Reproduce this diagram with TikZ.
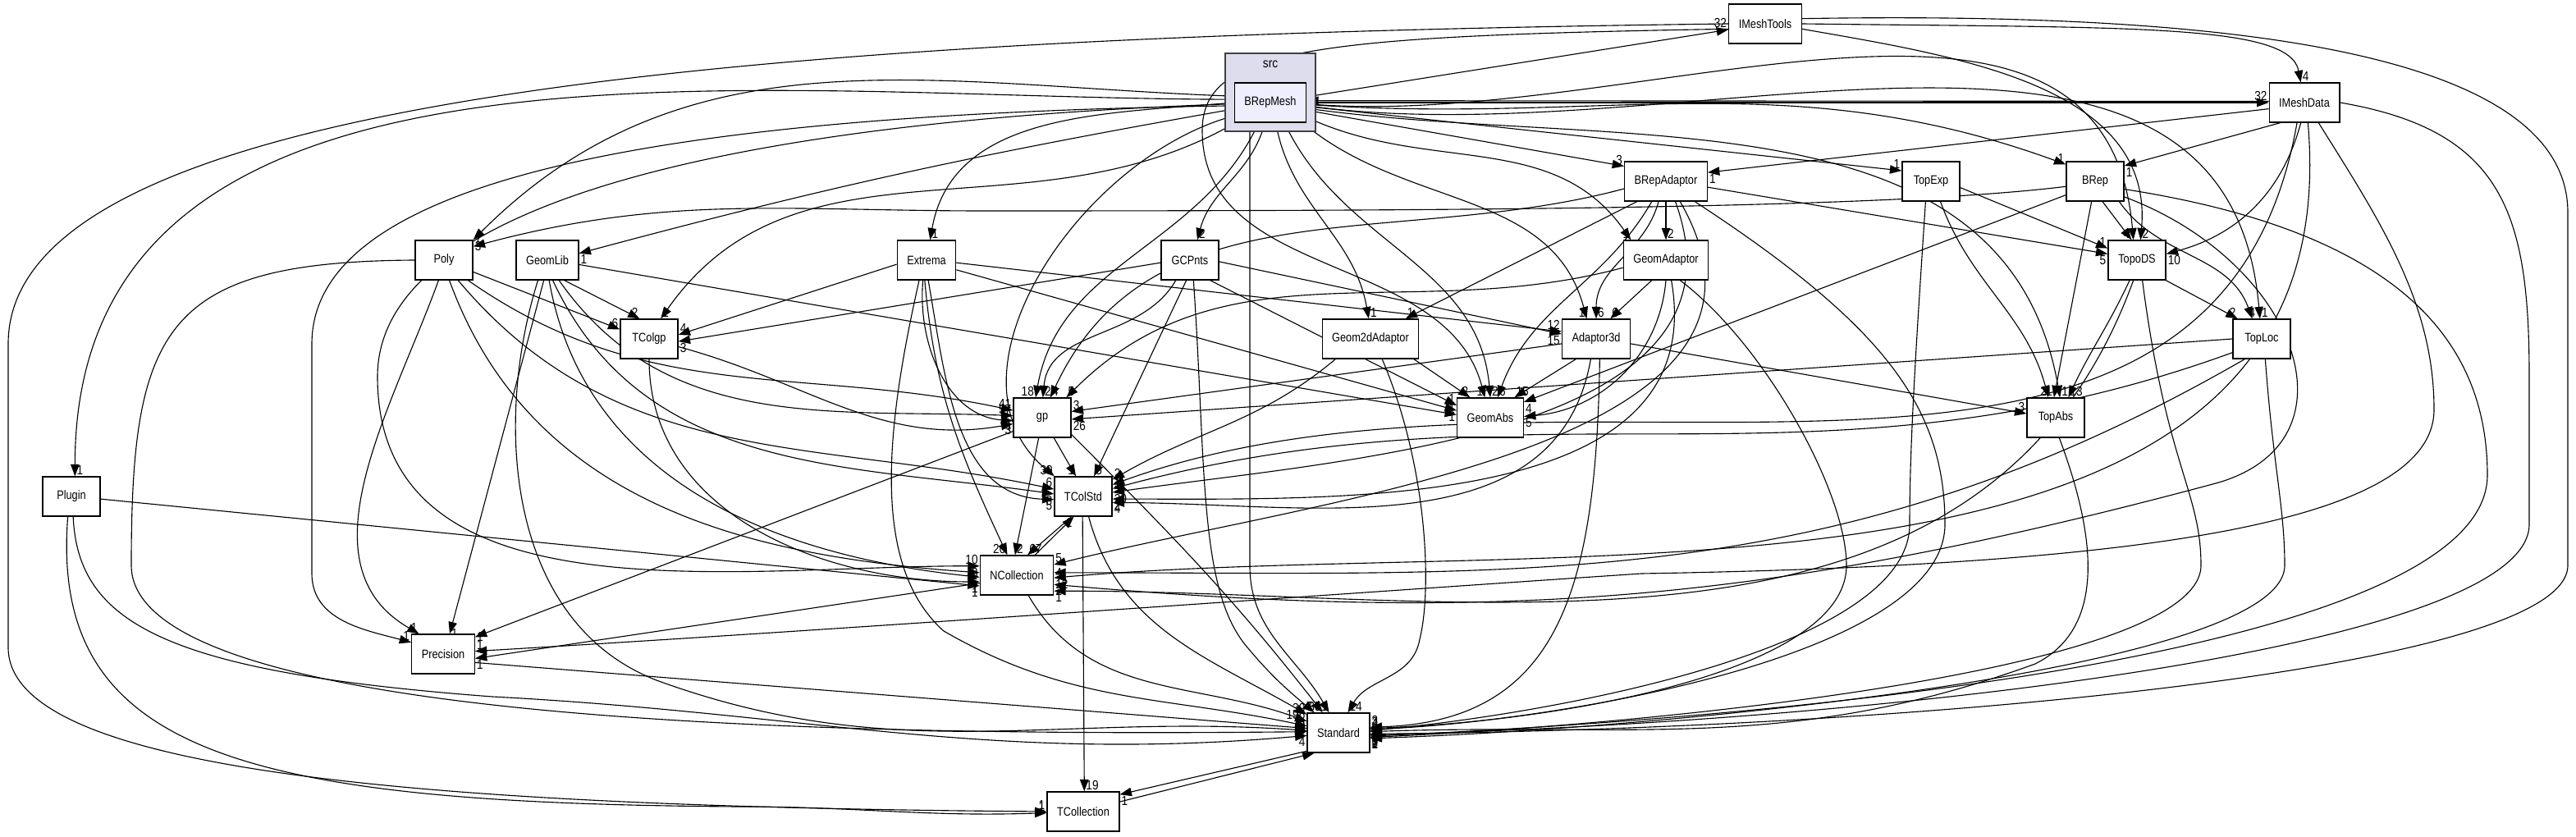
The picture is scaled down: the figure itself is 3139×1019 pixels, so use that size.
\documentclass[tikz,border=0pt]{standalone}
\usepackage{fontspec}
\newfontfamily\dirfont{Liberation Sans}[FakeStretch=0.85]
\usetikzlibrary{arrows.meta}
\definecolor{srcfill}{HTML}{DDDDEE}
\definecolor{meshfill}{HTML}{EEEEFF}
\definecolor{srcline}{HTML}{404040}
\pgfdeclarelayer{edges}
\pgfsetlayers{edges,main}

\begin{document}
\begin{tikzpicture}[x=0.25pt, y=0.25pt, >={Triangle[length=3.6pt, width=2.6pt]},
  dir/.style={draw, line width=0.33pt, fill=white, minimum height=12pt, minimum width=17.5pt, inner xsep=3pt, font=\dirfont\fontsize{3.75}{4.5}\selectfont},
  lbl/.style={font=\dirfont\fontsize{4}{4.8}\selectfont, inner sep=0.4pt},
  hl/.style={lbl, pos=1, anchor=#1},
  dep/.style={->, line width=0.28pt}]

\useasboundingbox (0,0) rectangle (3139,1019);

% the src cluster
\draw[srcline, line width=0.38pt, fill=srcfill] (1493,859) rectangle (1603,954);
\node[lbl] (src) at (1548,941) {src};
\node[dir, fill=meshfill] (BRepMesh) at (1548,894) {BRepMesh};

\node[dir] (IMeshTools) at (2151,990) {IMeshTools};
\node[dir] (IMeshData) at (2808,894) {IMeshData};
\node[dir] (BRepAdaptor) at (2030,798) {BRepAdaptor};
\node[dir] (TopExp) at (2353,798) {TopExp};
\node[dir] (BRep) at (2553,798) {BRep};
\node[dir] (Poly) at (541,702) {Poly};
\node[dir] (GeomLib) at (667,702) {GeomLib};
\node[dir] (Extrema) at (1129,702) {Extrema};
\node[dir] (GCPnts) at (1450,702) {GCPnts};
\node[dir] (GeomAdaptor) at (2030,702) {GeomAdaptor};
\node[dir] (TopoDS) at (2604,702) {TopoDS};
\node[dir] (TColgp) at (791,606) {TColgp};
\node[dir] (Geom2dAdaptor) at (1670,606) {Geom2dAdaptor};
\node[dir] (Adaptor3d) at (1945,606) {Adaptor3d};
\node[dir] (TopLoc) at (2756,606) {TopLoc};
\node[dir] (gp) at (1270,510) {gp};
\node[dir] (GeomAbs) at (1816,510) {GeomAbs};
\node[dir] (TopAbs) at (2505,510) {TopAbs};
\node[dir] (Plugin) at (87,414) {Plugin};
\node[dir] (TColStd) at (1320,414) {TColStd};
\node[dir] (NCollection) at (1239,318) {NCollection};
\node[dir] (Precision) at (540,222) {Precision};
\node[dir] (Standard) at (1631,126) {Standard};
\node[dir] (TCollection) at (1320,30) {TCollection};

\begin{pgfonlayer}{edges}
% BRepMesh
\draw[dep] (BRepMesh) -- node[hl=south east]{32} (IMeshTools);
\draw[dep] (BRepMesh.east) -- node[hl=south east]{32} (IMeshData.west);
\draw[dep] (BRepMesh.-12) -- node[hl=south east]{3} (BRepAdaptor.160);
\draw[dep] (BRepMesh.-6) -- node[hl=south east]{1} (TopExp.160);
\draw[dep] (BRepMesh.-3) to[out=-4, in=160] node[hl=south east]{1} (BRep.150);
\draw[dep] (BRepMesh.-2) to[out=-5, in=95] node[hl=south east]{7} (TopoDS.100);
\draw[dep] (BRepMesh.-5) to[out=-8, in=95] node[hl=south west]{1} (TopLoc.95);
\draw[dep] (BRepMesh.-9) to[out=-8, in=100] node[hl=south west]{1} (TopAbs.78);
\draw[dep] (BRepMesh.-22) to[out=-25, in=125] node[hl=south east]{1} (GeomAdaptor.150);
\draw[dep] (BRepMesh.-32) to[out=-40, in=105] node[hl=south east]{1} (Adaptor3d.115);
\draw[dep] (BRepMesh.-75) to[out=-80, in=100] node[hl=south west]{1} (Geom2dAdaptor.95);
\draw[dep] (BRepMesh.-55) to[out=-65, in=95] node[hl=south west]{2} (GeomAbs.90);
\draw[dep] ([xshift=-6.25pt]BRepMesh.south) -- ++(0,-540) to[out=-90, in=120] node[hl=south east]{61} (Standard.115);
\draw[dep] (BRepMesh.-120) to[out=-115, in=80] node[hl=south east]{18} (gp.108);
\draw[dep] (BRepMesh.-105) to[out=-105, in=75] node[hl=south west]{2} (GCPnts.70);
\draw[dep] (BRepMesh.west) to[out=185, in=80] node[hl=south west]{1} (Extrema.80);
\draw[dep] (BRepMesh.-160) to[out=-165, in=140] node[hl=south east]{39} (TColStd.145);
\draw[dep] (BRepMesh.-150) to[out=-150, in=55] node[hl=south west]{1} (TColgp.60);
\draw[dep] (BRepMesh.170) to[out=178, in=45] node[hl=west]{7} (Poly.north east);
\draw[dep] (BRepMesh.-170) to[out=190, in=15] node[hl=north west]{1} (GeomLib.12);
\draw[dep] (BRepMesh.175) to[out=180, in=90] node[hl=south west]{1} (Plugin.80);
\draw[dep] (BRepMesh.-175) .. controls (800,880) and (380,800) .. (380,600) -- (380,320) to[out=-90, in=165] node[hl=south east]{1} (Precision.160);
\draw[dep] (BRepMesh.-178) .. controls (850,870) and (460,760) .. (460,560) to[out=-90, in=180] node[hl=south east]{10} (NCollection.166);

% IMeshTools
\draw[dep] (IMeshTools.east) .. controls (2600,985) and (2790,990) .. (IMeshData.100) node[hl=south west]{4};
\draw[dep] (IMeshTools.-8) to[out=-10, in=85] node[hl=south west]{2} (TopoDS.80);
\draw[dep] (IMeshTools.8) .. controls (2700,1005) and (3129,960) .. (3129,760) -- (3129,330) .. controls (3129,200) and (2300,130) .. (Standard.-2) node[hl=north west]{3};
\draw[dep] (IMeshTools.west) .. controls (900,975) and (10,900) .. (10,600) -- (10,230) .. controls (10,80) and (500,36) .. (TCollection.west) node[hl=south east]{1};
\draw[dep] (IMeshTools.188) .. controls (1600,975) and (1465,960) .. (1465,860) to[out=-90, in=105] node[hl=south east]{1} (GeomAbs.105);

% IMeshData
\draw[dep] (IMeshData.178) -- node[hl=north west]{6} (BRepMesh.3);
\draw[dep] (IMeshData.190) -- node[hl=north west]{1} (BRepAdaptor.12);
\draw[dep] (IMeshData.-140) -- node[hl=north west]{1} (BRep.28);
\draw[dep] (IMeshData.-100) to[out=-105, in=15] node[hl=north west]{10} (TopoDS.12);
\draw[dep] (IMeshData.-110) to[out=-100, in=20] node[hl=south west]{1} (TColStd.22);
\draw[dep] (IMeshData.-80) to[out=-85, in=5] node[hl=north west]{12} (NCollection.-4);
\draw[dep] (IMeshData.-55) .. controls (2900,750) and (2966,650) .. (2966,520) .. controls (2966,380) and (2600,330) .. (2000,320) .. controls (1700,300) and (1000,250) .. (Precision.5) node[hl=south west]{1};
\draw[dep] (IMeshData.east) .. controls (3050,860) and (3082,760) .. (3082,560) -- (3082,380) .. controls (3082,230) and (2300,140) .. (Standard.-4) node[hl=north west]{5};

% BRepAdaptor
\draw[dep] (BRepAdaptor) -- node[hl=south west]{2} (GeomAdaptor);
\draw[dep] (BRepAdaptor.-110) to[out=-105, in=90] node[hl=south west]{6} (Adaptor3d.north);
\draw[dep] (BRepAdaptor.-145) -- node[hl=south west]{1} (Geom2dAdaptor.30);
\draw[dep] (BRepAdaptor.-125) to[out=-120, in=70] node[hl=south west]{6} (GeomAbs.70);
\draw[dep] (BRepAdaptor.-8) -- node[hl=north east]{5} (TopoDS.168);
\draw[dep] (BRepAdaptor.190) to[out=195, in=65] node[hl=south west]{4} (gp.68);
\draw[dep] (BRepAdaptor.-65) to[out=-70, in=8] node[hl=north west]{20} (TColStd.8);
\draw[dep] (BRepAdaptor.-55) to[out=-60, in=14] node[hl=south west]{5} (NCollection.16);
\draw[dep] (BRepAdaptor.-35) .. controls (2300,620) and (2370,520) .. (2370,380) .. controls (2370,220) and (1900,140) .. (Standard.6) node[hl=south west]{4};

% TopExp
\draw[dep] (TopExp.-12) -- node[hl=south east]{1} (TopoDS.158);
\draw[dep] (TopExp.-65) to[out=-70, in=105] node[hl=south east]{2} (TopAbs.110);
\draw[dep] (TopExp.-105) .. controls (2335,600) and (2327,480) .. (2327,380) .. controls (2327,230) and (1900,150) .. (Standard.4) node[hl=north west]{1};

% BRep
\draw[dep] (BRep.-70) -- node[hl=south east]{4} (TopoDS.105);
\draw[dep] (BRep.-40) to[out=-55, in=110] node[hl=south]{4} (TopLoc.115);
\draw[dep] (BRep.-100) -- node[hl=south east]{1} (TopAbs.95);
\draw[dep] (BRep.190) .. controls (2300,765) and (1800,762) .. (1200,762) to[out=180, in=15] node[hl=west]{3} (Poly.25);
\draw[dep] (BRep.205) -- node[hl=north west]{4} (GeomAbs.25);
\draw[dep] (BRep.-15) .. controls (2900,740) and (3031,620) .. (3031,440) .. controls (3031,240) and (2300,150) .. (Standard.-6) node[hl=north west]{3};
\draw[dep] (BRep.-28) .. controls (2800,700) and (2880,480) .. (2700,430) to[out=195, in=-5] node[hl=north west]{2} (NCollection.-14);

% TopoDS
\draw[dep] (TopoDS.-35) -- node[hl=south east]{2} (TopLoc.140);
\draw[dep] (TopoDS.-110) to[out=-115, in=65] node[hl=south west]{13} (TopAbs.58);
\draw[dep] (TopoDS.-100) to[out=-110, in=0] node[hl=north west]{1} (NCollection.-23);
\draw[dep] (TopoDS.-75) .. controls (2640,450) and (2682,420) .. (2682,330) .. controls (2682,200) and (2000,135) .. (Standard.-8) node[hl=north west]{2};

% TColgp
\draw[dep] (TColgp.-15) to[out=-15, in=190] node[hl=north east]{3} (gp.192);
\draw[dep] (TColgp.-90) to[out=-90, in=180] node[hl=north east]{1} (NCollection.190);

% Poly
\draw[dep] (Poly.-22) -- node[hl=south east]{6} (TColgp.162);
\draw[dep] (Poly.-40) to[out=-35, in=168] node[hl=south east]{41} (gp.166);
\draw[dep] (Poly.-55) to[out=-50, in=168] node[hl=south east]{6} (TColStd.166);
\draw[dep] (Poly.-75) to[out=-70, in=176] node[hl=east]{3} (NCollection.176);
\draw[dep] (Poly.-105) to[out=-110, in=150] node[hl=south east]{1} (Precision.140);
\draw[dep] (Poly.west) .. controls (200,700) and (160,620) .. (160,330) .. controls (160,150) and (900,120) .. (Standard.178) node[hl=south east]{8};

% GeomLib
\draw[dep] (GeomLib.-50) -- node[hl=south east]{2} (TColgp.115);
\draw[dep] (GeomLib.-60) to[out=-55, in=178] node[hl=south east]{57} (gp.176);
\draw[dep] (GeomLib.-8) -- node[hl=south east]{1} (GeomAbs.175);
\draw[dep] (GeomLib.-75) to[out=-65, in=172] node[hl=north east]{8} (TColStd.175);
\draw[dep] (GeomLib.-85) to[out=-80, in=174] node[hl=north east]{5} (NCollection.183);
\draw[dep] (GeomLib.-100) -- node[hl=west]{1} (Precision.72);
\draw[dep] (GeomLib.-115) .. controls (600,500) and (620,260) .. (800,190) to[out=-20, in=176] node[hl=east]{6} (Standard.176);

% Extrema
\draw[dep] (Extrema.188) -- node[hl=south west]{4} (TColgp.8);
\draw[dep] (Extrema.-100) to[out=-95, in=176] node[hl=north east]{4} (gp.186);
\draw[dep] (Extrema.-5) -- node[hl=south east]{12} (Adaptor3d.168);
\draw[dep] (Extrema.-18) -- node[hl=north east]{1} (GeomAbs.168);
\draw[dep] (Extrema.-85) to[out=-80, in=178] node[hl=north east]{5} (TColStd.186);
\draw[dep] (Extrema.-95) to[out=-85, in=115] node[hl=south east]{20} (NCollection.115);
\draw[dep] (Extrema.-110) .. controls (1080,500) and (1060,330) .. (1150,250) to[out=-30, in=168] node[hl=east]{9} (Standard.168);

% GCPnts
\draw[dep] (GCPnts.185) -- node[hl=north west]{3} (TColgp.-5);
\draw[dep] (GCPnts.-125) to[out=-120, in=85] node[hl=south west]{2} (gp.88);
\draw[dep] (GCPnts.-3) -- node[hl=north east]{15} (Adaptor3d.172);
\draw[dep] (GCPnts.-45) -- node[hl=south east]{1} (GeomAbs.160);
\draw[dep] (GCPnts.-100) -- node[hl=south west]{5} (TColStd.62);
\draw[dep] (GCPnts.-80) .. controls (1470,450) and (1460,300) .. (1520,230) to[out=-50, in=140] node[hl=south east]{7} (Standard.140);

% GeomAdaptor
\draw[dep] (GeomAdaptor.-125) -- node[hl=south west]{6} (Adaptor3d.55);
\draw[dep] (GeomAdaptor.-90) to[out=-95, in=5] node[hl=north west]{5} (GeomAbs.2);
\draw[dep] (GeomAdaptor.190) to[out=195, in=45] node[hl=south west]{5} (gp.40);
\draw[dep] (GeomAdaptor.-75) to[out=-80, in=0] node[hl=north west]{2} (TColStd.-5);
\draw[dep] (GeomAdaptor.-55) .. controls (2150,600) and (2250,420) .. (2250,330) .. controls (2250,200) and (1900,140) .. (Standard.8) node[hl=south west]{2};

% Geom2dAdaptor
\draw[dep] (Geom2dAdaptor.-25) -- node[hl=south east]{2} (GeomAbs.135);
\draw[dep] (Geom2dAdaptor.-150) to[out=-140, in=30] node[hl=south west]{2} (TColStd.30);
\draw[dep] (Geom2dAdaptor.-60) .. controls (1740,450) and (1745,300) .. (1730,240) to[out=-100, in=60] node[hl=south west]{14} (Standard.65);

% Adaptor3d
\draw[dep] (Adaptor3d.-135) -- node[hl=south west]{15} (GeomAbs.40);
\draw[dep] (Adaptor3d.188) -- node[hl=south west]{3} (gp.12);
\draw[dep] (Adaptor3d.-8) -- node[hl=south east]{3} (TopAbs.172);
\draw[dep] (Adaptor3d.-105) to[out=-100, in=0] node[hl=north west]{4} (TColStd.-12);
\draw[dep] (Adaptor3d.-80) .. controls (1945,300) and (1900,140) .. (Standard.10) node[hl=south west]{3};

% TopLoc
\draw[dep] (TopLoc.west) -- node[hl=north west]{26} (gp.-3);
\draw[dep] (TopLoc.-155) to[out=-160, in=15] node[hl=south west]{1} (TColStd.15);
\draw[dep] (TopLoc.-130) to[out=-150, in=0] node[hl=west]{4} (NCollection.4);
\draw[dep] (TopLoc.-80) .. controls (2770,450) and (2784,400) .. (2784,330) .. controls (2784,200) and (2000,130) .. (Standard.-10) node[hl=north west]{1};

% gp
\draw[dep] (gp.-60) -- node[hl=south east]{1} (TColStd.110);
\draw[dep] (gp.-100) -- node[hl=south west]{2} (NCollection.95);
\draw[dep] (gp.-155) -- node[hl=west]{1} (Precision.28);
\draw[dep] (gp.-30) to[out=-45, in=128] node[hl=south east]{35} (Standard.128);

% TopAbs
\draw[dep] (TopAbs.-80) .. controls (2560,350) and (2560,250) .. (2480,210) to[out=200, in=2] node[hl=north west]{2} (Standard.2);

% TColStd
\draw[dep] (TColStd.-120) -- node[hl=south west]{67} (NCollection.62);
\draw[dep] (TColStd.-75) to[out=-75, in=150] node[hl=south east]{39} (Standard.150);
\draw[dep] (TColStd.-92) -- node[hl=south west]{19} (TCollection.87);

% NCollection
\draw[dep] (NCollection.48) -- node[hl=north east]{1} (TColStd.-115);
\draw[dep] (NCollection.192) -- node[hl=north west]{1} (Precision.-8);
\draw[dep] (NCollection.-60) to[out=-60, in=160] node[hl=south east]{196} (Standard.160);

% Precision, Plugin, Standard, TCollection
\draw[dep] (Precision.-15) -- node[hl=east]{5} (Standard.172);
\draw[dep] (Plugin.-5) -- node[hl=north east]{1} (NCollection.196);
\draw[dep] (Plugin.-85) .. controls (95,260) and (200,200) .. (600,170) to[out=-3, in=185] node[hl=north east]{4} (Standard.185);
\draw[dep] (Plugin.-100) .. controls (60,100) and (300,40) .. (900,36) to[out=0, in=182] node[hl=south east]{1} (TCollection.182);
\draw[dep] (Standard.-150) -- node[hl=north west]{1} (TCollection.25);
\draw[dep] (TCollection.15) -- node[hl=south east]{7} (Standard.-140);
\end{pgfonlayer}
\end{tikzpicture}
\end{document}
